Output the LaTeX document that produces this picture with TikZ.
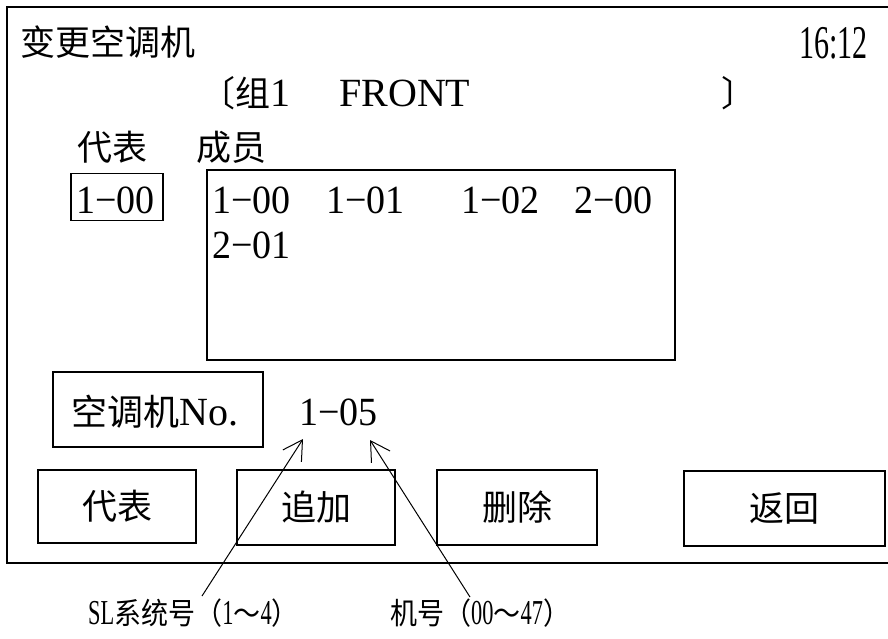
\documentclass[tikz,border=0pt]{standalone}
\usepackage{fontspec}
\usepackage{graphicx}
\setmainfont{Liberation Serif}
\newfontfamily\cjk{Noto Sans CJK SC}
\newfontfamily\cjkn{Noto Sans CJK SC}[FakeStretch=0.9]
\newfontfamily\cond{Liberation Serif}[FakeStretch=0.95]
\newfontfamily\condd{Liberation Serif}[FakeStretch=0.64]
\usetikzlibrary{arrows.meta}
\newcommand{\lblzh}[1]{{\cjkn\fontsize{30}{34}\selectfont #1}}
\begin{document}
\begin{tikzpicture}[x=1pt,y=-1pt,
  box/.style={draw,line width=1.4pt,inner sep=0pt},
  txt/.style={inner sep=0pt,anchor=base west},
  zh/.style={font=\cjk\fontsize{35}{40}\selectfont},
  num/.style={font=\cond\fontsize{40}{46}\selectfont},
  small/.style={font=\condd\fontsize{35}{38}\selectfont},
  pointer/.style={line width=1pt,-{Straight Barb[length=19pt,width=22pt,line width=1pt]}}]
\useasboundingbox (0,0) rectangle (888,638);
% outer frame (right side runs off the picture)
\draw[line width=1.6pt] (900,7) -- (7,7) -- (7,563) -- (900,563);
% header
\node[txt,font=\cjk\fontsize{35}{40}\selectfont] (title) at (20,55) {变更空调机};
\node[inner sep=0pt,anchor=base east,font=\condd\fontsize{47}{50}\selectfont] (time) at (868,58) {16:12};
\node[txt,font=\cjk\fontsize{35}{40}\selectfont] (grp) at (200,106) {〔组\fontspec{Liberation Serif}\fontsize{40}{44}\selectfont 1};
\node[txt,font=\fontsize{40}{44}\selectfont] (front) at (339,106) {FRONT};
\node[txt,font=\cjk\fontsize{35}{40}\selectfont] (rbr) at (721,106) {〕};
% labels
\node[txt,zh] (replbl) at (77,160) {代表};
\node[txt,zh] (memlbl) at (196,160) {成员};
% representative box
\node[box,minimum width=92pt,minimum height=47pt] (rep) at (117,197) {};
\node[txt,num] (reptxt) at (76,213) {1−00};
% members box
\node[box,minimum width=468pt,minimum height=190pt] (mem) at (441,265) {};
\node[txt,num] (m1) at (212,213) {1−00};
\node[txt,num] (m2) at (326,213) {1−01};
\node[txt,num] (m3) at (461,213) {1−02};
\node[txt,num] (m4) at (574,213) {2−00};
\node[txt,num] (m5) at (212,258) {2−01};
% unit number
\node[box,minimum width=210pt,minimum height=75pt] (unit) at (158,409.5) {};
\node[txt] (unittxt) at (71,425) {{\cjk\fontsize{36}{40}\selectfont 空调机}{\fontsize{40}{44}\selectfont No.}};
\node[txt,num] (val) at (299,425) {1−05};
% buttons
\node[box,minimum width=158pt,minimum height=73pt,zh] (b1) at (117,506.5) {代表};
\node[box,minimum width=158pt,minimum height=75pt,zh] (b2) at (316,507.5) {追加};
\node[box,minimum width=160pt,minimum height=75pt,zh] (b3) at (517,507.5) {删除};
\node[box,minimum width=201pt,minimum height=75pt,zh] (b4) at (784.5,508.5) {返回};
% annotations
\node[txt,small] (sl) at (88,624) {SL\lblzh{系统号（}1\lblzh{～}4\lblzh{）}};
\node[txt,small] (no) at (390,624) {\lblzh{机号（}00\lblzh{～}47\lblzh{）}};
\coordinate (slstart) at (202,596);
\coordinate (sltip) at (303,439);
\coordinate (nostart) at (470,597);
\coordinate (notip) at (370,440);
\draw[pointer] (slstart) -- (sltip);
\draw[pointer] (nostart) -- (notip);
\end{tikzpicture}
\end{document}
